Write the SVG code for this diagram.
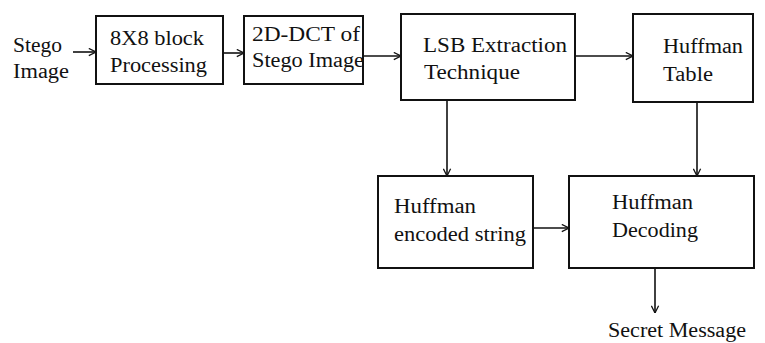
<svg xmlns="http://www.w3.org/2000/svg" width="765" height="343" viewBox="0 0 765 343">
<defs>
<style>
.box{fill:#fff;stroke:#111;stroke-width:2}
.t{font-family:"Liberation Serif","Times New Roman",serif;font-size:20px;fill:#111}
.c{fill:none;stroke:#111;stroke-width:1.6}
</style>
<marker id="ah" viewBox="0 0 10 10" refX="10" refY="5" markerWidth="9" markerHeight="9" markerUnits="userSpaceOnUse" orient="auto">
<path d="M2,1 L10,5 L2,9" fill="none" stroke="#111" stroke-width="1.4"/>
</marker>
</defs>
<rect width="765" height="343" fill="#fff"/>
<g id="connectors">
<line class="c" x1="73" y1="52" x2="96" y2="52" marker-end="url(#ah)"/>
<line class="c" x1="223" y1="53" x2="244" y2="53" marker-end="url(#ah)"/>
<line class="c" x1="363" y1="56" x2="401" y2="56" marker-end="url(#ah)"/>
<line class="c" x1="575" y1="56" x2="633" y2="56" marker-end="url(#ah)"/>
<line class="c" x1="447" y1="100" x2="447" y2="176" marker-end="url(#ah)"/>
<line class="c" x1="697" y1="102" x2="697" y2="176" marker-end="url(#ah)"/>
<line class="c" x1="533" y1="228" x2="569" y2="228" marker-end="url(#ah)"/>
<line class="c" x1="655" y1="268" x2="655" y2="313" marker-end="url(#ah)"/>
</g>
<g id="stego-image">
<text class="t" x="13" y="52" textLength="49" lengthAdjust="spacingAndGlyphs">Stego</text>
<text class="t" x="13" y="78" textLength="56" lengthAdjust="spacingAndGlyphs">Image</text>
</g>
<g id="block-processing">
<rect class="box" x="96" y="16" width="127" height="68"/>
<text class="t" x="110" y="45" textLength="94" lengthAdjust="spacingAndGlyphs">8X8 block</text>
<text class="t" x="110" y="72" textLength="97" lengthAdjust="spacingAndGlyphs">Processing</text>
</g>
<g id="dct">
<rect class="box" x="244" y="16" width="119" height="68"/>
<text class="t" x="252" y="41" textLength="108" lengthAdjust="spacingAndGlyphs">2D-DCT of</text>
<text class="t" x="252" y="67" textLength="112" lengthAdjust="spacingAndGlyphs">Stego Image</text>
</g>
<g id="lsb">
<rect class="box" x="401" y="14" width="174" height="86"/>
<text class="t" x="423" y="52" textLength="144" lengthAdjust="spacingAndGlyphs">LSB Extraction</text>
<text class="t" x="424" y="79" textLength="96" lengthAdjust="spacingAndGlyphs">Technique</text>
</g>
<g id="huffman-table">
<rect class="box" x="633" y="14" width="120" height="88"/>
<text class="t" x="663" y="53" textLength="80" lengthAdjust="spacingAndGlyphs">Huffman</text>
<text class="t" x="663" y="81" textLength="50" lengthAdjust="spacingAndGlyphs">Table</text>
</g>
<g id="huffman-encoded">
<rect class="box" x="378" y="176" width="155" height="92"/>
<text class="t" x="394" y="213" textLength="82" lengthAdjust="spacingAndGlyphs">Huffman</text>
<text class="t" x="394" y="241" textLength="132" lengthAdjust="spacingAndGlyphs">encoded string</text>
</g>
<g id="huffman-decoding">
<rect class="box" x="569" y="176" width="185" height="92"/>
<text class="t" x="612" y="209" textLength="81" lengthAdjust="spacingAndGlyphs">Huffman</text>
<text class="t" x="612" y="237" textLength="86" lengthAdjust="spacingAndGlyphs">Decoding</text>
</g>
<g id="secret-message">
<text class="t" x="608" y="337" textLength="138" lengthAdjust="spacingAndGlyphs">Secret Message</text>
</g>
</svg>
